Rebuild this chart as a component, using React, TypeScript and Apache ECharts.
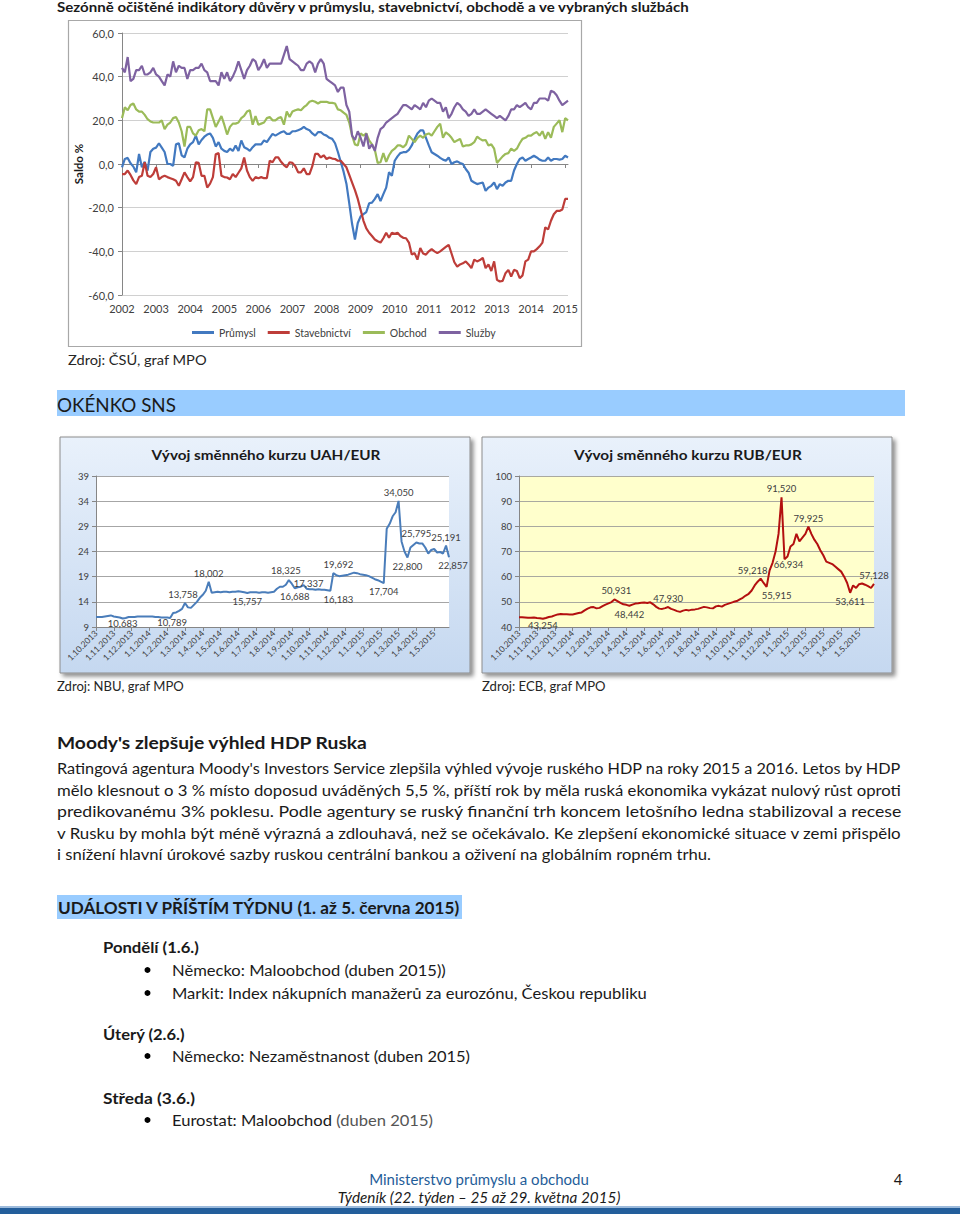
import React, { useEffect, useRef } from "react";
import * as echarts from "echarts";

const FONT = "Lato, 'Liberation Sans', sans-serif";

// ---------- Top chart: monthly confidence indicators 2002-01 .. 2015-02 ----------
const YEARS = [2002, 2003, 2004, 2005, 2006, 2007, 2008, 2009, 2010, 2011, 2012, 2013, 2014, 2015];
const SERIES_NAMES = ["Průmysl", "Stavebnictví", "Obchod", "Služby"];

const PRUMYSL = [
  -1.5, 2.3, 2.8, 0.3, -1.2, -3.8, 4.6, -1.5, 1.0, -3.0, 5.5, 7.0,
  7.5, 9.5, 7.5, 5.5, 0, 0, -0.8, 9, 9.5, 4, 3, 7,
  9, 10, 13, 9, 11, 12.5, 13.5, 14, 12, 8, 10, 7,
  6, 5.5, 7, 6, 8.5, 6, 10.8, 7.7, 7, 6, 7.7, 9,
  9, 9, 10.8, 10, 12, 13.8, 13, 13.8, 14.5, 15, 13.8, 13.8,
  15, 15, 15.5, 16, 17, 16, 15.5, 14, 13, 14.6, 14.6, 13.5,
  13, 12, 11.5, 9.5, 5.5, 1, -3.5, -9, -18, -27.5, -34.6, -27,
  -24, -23, -22, -18, -17.7, -16, -13.8, -17, -13.8, -10.8, -3.8, -5.4,
  1.5, 3.5, 5, 5.4, 5.4, 6.5, 8.5, 11.5, 14, 15.4, 15.4, 12,
  8.5, 5.4, 4.6, 3.8, 2.8, 2, 1.5, 3, 0, 0.8, 1.2, 0.5,
  0, -2.3, -4, -7.7, -8.5, -9.2, -8.8, -8.5, -12.3, -10.8, -10, -8.5,
  -11.5, -9.2, -10, -8.5, -7.7, -7.7, -3, 0, 2.3, 3, 1.5, 2.3,
  3, 3.8, 3, 2, 1.5, 1.5, 3, 1.5, 2.3, 2.3, 2, 2.3,
  3.8, 3,
];

const STAVEBNICTVI = [
  -4.6, -4.6, -3, -5, -7.5, -9.2, -6, -5.4, 0.8, -5.4, -6, -4.6,
  -1.5, -7, -6, -5.4, -6, -6.5, -7, -7.7, -10, -7, -3.8, -6,
  -8, -6, 0.8, 0.5, -5.4, -5.4, -10.8, -9, -6, 4.5, 5, -5.4,
  -6, -6.2, -7, -4.6, -6, -4, -2, 3, -3, -6, -7.7, -6,
  -6.5, -6, -6.5, -6.5, 1.5, 0.8, 3, 3, 1, -0.5, -1.5, 0.8,
  0.5, -1, -3.8, -3.8, -2, -4.6, -4.6, -1, 4.6, 4.6, 3, 4,
  2.3, 3, 2.5, 2.3, 1.5, 1.5, 0, -1.5, -5, -8.5, -12, -16,
  -21, -26, -29.5, -31.5, -33, -34.6, -35.4, -36, -34, -31.5, -33.8, -31.5,
  -32, -31.5, -33, -33.8, -34, -36, -41.5, -40.8, -43.8, -38.5, -41, -41.5,
  -40, -39, -40, -40.8, -40, -39, -38, -37, -41, -45, -47, -46,
  -45.5, -44.6, -46, -47.7, -43.8, -44.6, -44, -43, -47.7, -46, -49, -44.6,
  -53, -53.8, -53.5, -50, -48.5, -51.5, -48.5, -49, -52.3, -51, -44.6, -43.8,
  -40, -40, -39, -37.7, -36, -29, -30, -26, -23, -21.5, -21.5, -20.8,
  -16, -16,
];

const OBCHOD = [
  21, 26, 24.6, 27, 27.7, 25, 24, 24, 22.5, 20.5, 19.5, 19,
  19, 19, 20, 16, 18, 19, 21, 21.5, 19, 15, 8, 17,
  17, 14, 13, 15.5, 16, 15, 25, 25, 21, 17, 19.5, 22,
  18, 13.5, 17, 18.5, 18.5, 19, 21, 22, 24, 24.6, 18, 22,
  18, 18.5, 19, 21, 21.5, 20, 20, 21, 21.5, 18, 24, 21.5,
  24, 24.6, 25, 24.6, 26, 27, 28.5, 29, 28.5, 27.7, 28.5, 28.5,
  28.5, 28, 28, 27.7, 25, 24.6, 23.5, 22.5, 19, 13, 9, 8.5,
  14, 13, 14, 10.8, 9, 6.5, 0.5, 0.8, 5, 1, 4, 6,
  7, 8.5, 8.5, 7.7, 9, 13, 11.5, 10, 12, 13, 12, 13.5,
  14, 13, 15, 17, 18.5, 12, 14.5, 13.5, 12, 10, 10.8, 11.5,
  8, 8.5, 8.5, 9, 10, 12.5, 11.5, 10.8, 11, 8.5, 9, 7,
  0.5, 2, 3.5, 4.6, 5, 7, 6, 7, 9.5, 11.5, 12, 13,
  13, 14, 14.6, 13, 15, 11.5, 14.6, 12, 17, 18.5, 20, 14.6,
  21, 20,
];

const SLUZBY = [
  44, 42, 49, 38, 39, 43, 43, 45, 41, 41, 42, 44,
  41, 40, 38, 36, 41, 40, 47, 42, 45, 44, 44, 39,
  43, 43, 44, 44, 46, 43, 42, 38, 38, 38, 36, 42,
  39, 42, 38, 40, 43, 47, 43, 39, 43, 45, 48, 47,
  43, 45, 48, 44, 46, 46, 46, 46, 46, 50, 54, 48,
  47, 46, 45, 43, 43, 46, 47, 46, 42, 46, 48, 46,
  39, 38, 37, 36, 33, 35, 35, 27, 24, 13, 11, 15,
  12, 8, 14, 7, 9, 6, 12, 16, 17, 19, 20, 21,
  22, 23, 25, 27, 27, 26, 25, 27, 26, 25, 28, 26,
  29, 30, 29, 28, 28, 24, 26, 21, 23, 26, 28, 27,
  25, 24, 22, 23, 25, 23, 23, 24, 25, 24, 23, 22,
  21, 22, 21, 20, 22, 25, 25, 27, 26, 27, 28, 26,
  25, 28, 28, 30, 30, 30, 29, 33.5, 33, 31.5, 29, 27,
  28, 29,
];

const TOP_COLORS = ["#4279c0", "#be3d39", "#9bbb59", "#7e62a1"];

// ---------- Exchange-rate charts (5-day steps, 1.10.2013 .. 26.5.2015) ----------
const FX_MONTHS = [
  "10.2013", "11.2013", "12.2013", "1.2014", "2.2014", "3.2014", "4.2014", "5.2014",
  "6.2014", "7.2014", "8.2014", "9.2014", "10.2014", "11.2014", "12.2014",
  "1.2015", "2.2015", "3.2015", "4.2015", "5.2015",
];
const FX_DAYS = [1, 6, 11, 16, 21, 26];

const UAH = [
  11.0, 11.0, 11.0, 11.1, 11.2, 11.3,
  11.1, 11.0, 10.9, 10.683, 10.8, 11.0,
  11.0, 11.0, 11.1, 11.1, 11.1, 11.1,
  11.1, 11.1, 11.0, 11.0, 10.9, 10.9,
  10.9, 10.789, 11.8, 11.9, 12.2, 12.6,
  13.758, 12.9, 12.8, 13.4, 14.0, 14.8,
  15.4, 16.2, 18.002, 15.8, 15.9, 16.0,
  15.9, 16.0, 16.0, 15.9, 16.0, 16.0,
  16.1, 16.0, 15.9, 15.757, 15.9, 15.9,
  15.9, 15.8, 15.9, 15.9, 15.8, 15.9,
  16.0, 16.6, 17.0, 17.0, 17.4, 18.325,
  17.6, 16.688, 16.9, 17.0, 17.337, 16.6,
  16.5, 16.5, 16.4, 16.5, 16.4, 16.4,
  16.3, 16.183, 19.692, 19.3, 19.1, 19.2,
  19.3, 19.4, 19.6, 19.8, 19.7, 19.5,
  19.4, 19.3, 19.1, 18.8, 18.5, 18.3,
  18.0, 17.704, 28.5, 29.5, 31.0, 31.8,
  34.05, 26.0, 24.0, 22.8, 24.8, 25.3,
  25.795, 25.6, 25.6, 24.8, 23.6, 24.3,
  24.5, 23.8, 23.9, 23.6, 25.191, 22.857,
];

const RUB = [
  43.9, 43.9, 43.8, 43.7, 43.7, 43.8,
  43.6, 43.5, 43.254, 43.6, 44.0, 44.2,
  44.6, 45.0, 45.2, 45.1, 45.1, 45.0,
  45.0, 45.3, 45.6, 45.8, 46.6, 47.3,
  47.8, 47.9, 47.4, 47.6, 48.3, 48.9,
  49.4, 49.9, 50.931, 50.3, 49.6, 49.0,
  48.8, 48.442, 48.9, 49.3, 49.4, 49.6,
  49.7, 49.5, 49.8, 49.0, 48.0, 47.3,
  47.2, 47.5, 47.93, 47.2, 46.8, 46.3,
  46.0, 46.5, 46.8, 46.6, 46.9, 47.0,
  47.2, 47.6, 48.0, 47.8, 47.5, 47.4,
  48.2, 48.4, 48.1, 48.8, 49.2, 49.6,
  50.0, 50.3, 51.0, 51.6, 52.5, 53.2,
  54.5, 56.5, 58.0, 59.218, 57.5, 55.915,
  62.5, 65.5, 70.0, 77.0, 91.52, 66.934,
  68.0, 72.0, 73.0, 77.0, 74.0, 75.5,
  77.0, 79.925, 77.0, 74.7, 73.0, 70.5,
  68.5, 66.0, 65.5, 65.0, 64.0, 63.0,
  62.0, 60.0, 57.5, 53.611, 56.5, 55.5,
  57.0, 57.3, 56.8, 56.2, 55.5, 57.128,
];

// indices of points carrying a value label, where the label sits, and a small nudge
const UAH_LABELS: [number, string, number[]][] = [
  [9, "bottom", [0, -4]], [25, "bottom", [2, -4]], [30, "top", [-2, 0]], [38, "top", [0, 0]],
  [51, "bottom", [0, 0]], [65, "top", [-3, -1]], [67, "bottom", [0, 0]], [70, "top", [5, 7]],
  [79, "bottom", [8, 0]], [80, "top", [5, 0]], [97, "bottom", [0, 0]], [102, "top", [0, 0]],
  [105, "bottom", [0, 0]], [108, "top", [0, 0]], [118, "top", [0, 0]], [119, "bottom", [4, 0]],
];
const RUB_LABELS: [number, string, number[]][] = [
  [8, "bottom", [0, -2]], [32, "top", [2, 0]], [37, "bottom", [0, 0]], [50, "top", [0, 0]],
  [81, "top", [-8, 0]], [83, "bottom", [10, 0]], [88, "top", [0, 0]], [89, "bottom", [4, -3]],
  [97, "top", [0, 0]], [111, "bottom", [0, 0]], [119, "top", [0, 0]],
];

// ---------- Document text ----------
const PARAGRAPH = [
  "Ratingová agentura Moody's Investors Service zlepšila výhled vývoje ruského HDP na roky 2015 a 2016. Letos by HDP",
  "mělo klesnout o 3 % místo doposud uváděných 5,5 %, příští rok by měla ruská ekonomika vykázat nulový růst oproti",
  "predikovanému 3% poklesu. Podle agentury se ruský finanční trh koncem letošního ledna stabilizoval a recese",
  "v Rusku by mohla být méně výrazná a zdlouhavá, než se očekávalo. Ke zlepšení ekonomické situace v zemi přispělo",
  "i snížení hlavní úrokové sazby ruskou centrální bankou a oživení na globálním ropném trhu.",
];

type TextSpec = {
  text: string; x: number; y: number; size: number; w?: number;
  bold?: boolean; italic?: boolean; align?: string; color?: string;
};

function buildOption() {
  const canvas = document.createElement("canvas");
  const ctx = canvas.getContext("2d") as CanvasRenderingContext2D;

  const fontOf = (t: { size: number; bold?: boolean; italic?: boolean }) =>
    `${t.italic ? "italic " : ""}${t.bold ? "bold " : ""}${t.size}px ${FONT}`;
  const measure = (text: string, font: string) => {
    ctx.font = font;
    return ctx.measureText(text).width;
  };

  const makeText = (t: TextSpec, forcedScale?: number) => {
    const font = fontOf(t);
    const mw = measure(t.text, font);
    const sx = forcedScale != null ? forcedScale : t.w ? t.w / mw : 1;
    const align = t.align || "left";
    return {
      type: "text",
      x: t.x,
      y: t.y,
      scaleX: sx,
      z: 10,
      silent: true,
      style: {
        text: t.text,
        font,
        fill: t.color || "#1a1a1a",
        textAlign: align,
        textVerticalAlign: "middle",
        align,
        verticalAlign: "middle",
      },
    };
  };

  const paraY = [768, 790, 811, 833, 854];
  const paraW = [846, 846, 846, 846, 655];
  const BODY = 15;

  const texts: TextSpec[] = [
    { text: "Sezónně očištěné indikátory důvěry v průmyslu, stavebnictví, obchodě a ve vybraných službách", x: 57, y: 7, size: 12.5, bold: true, w: 635 },
    { text: "Zdroj: ČSÚ, graf MPO", x: 68, y: 360, size: 14, w: 139, color: "#262626" },
    { text: "OKÉNKO SNS", x: 57, y: 404, size: 19.5, w: 119 },
    { text: "Vývoj směnného kurzu UAH/EUR", x: 266, y: 455, size: 14, bold: true, w: 229, align: "center" },
    { text: "Vývoj směnného kurzu RUB/EUR", x: 688, y: 455, size: 14, bold: true, w: 228, align: "center" },
    { text: "Zdroj: NBU, graf MPO", x: 57, y: 686, size: 14, w: 127, color: "#262626" },
    { text: "Zdroj: ECB, graf MPO", x: 482, y: 686, size: 14, w: 124, color: "#262626" },
    { text: "Moody's zlepšuje výhled HDP Ruska", x: 57, y: 742, size: 17.5, bold: true, w: 311 },
    ...PARAGRAPH.map((p, i) => ({ text: p, x: 57, y: paraY[i], size: BODY, w: paraW[i] })),
    { text: "UDÁLOSTI V PŘÍŠTÍM TÝDNU (1. až 5. června 2015)", x: 58, y: 907, size: 17.5, bold: true, w: 403 },
    { text: "Pondělí (1.6.)", x: 103, y: 947, size: BODY, bold: true, w: 96 },
    { text: "Německo: Maloobchod (duben 2015))", x: 172, y: 970, size: BODY, w: 274 },
    { text: "Markit: Index nákupních manažerů za eurozónu, Českou republiku", x: 172, y: 993, size: BODY, w: 475 },
    { text: "Úterý (2.6.)", x: 103, y: 1034, size: BODY, bold: true, w: 82 },
    { text: "Německo: Nezaměstnanost (duben 2015)", x: 172, y: 1056, size: BODY, w: 298 },
    { text: "Středa (3.6.)", x: 103, y: 1098, size: BODY, bold: true, w: 92 },
    { text: "Ministerstvo průmyslu a obchodu", x: 479, y: 1179, size: BODY, w: 220, align: "center", color: "#1f5d99" },
    { text: "4", x: 898, y: 1179, size: BODY, align: "center" },
    { text: "Týdeník (22. týden – 25 až 29. května 2015)", x: 479, y: 1197, size: BODY, italic: true, w: 283, align: "center" },
  ];

  // last bullet: two colours on one line, one common horizontal scale
  const lastA = "Eurostat: Maloobchod ";
  const lastB = "(duben 2015)";
  const lastFont = fontOf({ size: BODY });
  const lastScale = 261 / measure(lastA + lastB, lastFont);
  const lastBx = 172 + measure(lastA, lastFont) * lastScale;

  const boxFill = () =>
    new echarts.graphic.LinearGradient(0, 0, 0, 1, [
      { offset: 0, color: "#e9f1fb" },
      { offset: 1, color: "#c5d8f0" },
    ]);

  const graphic: any[] = [
    // top chart frame
    { type: "rect", z: -5, silent: true, shape: { x: 68.5, y: 20.5, width: 513, height: 326 }, style: { fill: "#ffffff", stroke: "#a8a8a8", lineWidth: 1.2 } },
    // banner
    { type: "rect", z: -5, silent: true, shape: { x: 57, y: 390, width: 848, height: 26 }, style: { fill: "#99ccff" } },
    // FX boxes
    { type: "rect", z: -5, silent: true, shape: { x: 60, y: 437, width: 410, height: 236 }, style: { fill: boxFill(), stroke: "#8c8c8c", lineWidth: 1, shadowBlur: 4, shadowOffsetX: 3, shadowOffsetY: 3, shadowColor: "rgba(0,0,0,0.45)" } },
    { type: "rect", z: -5, silent: true, shape: { x: 482, y: 437, width: 410, height: 236 }, style: { fill: boxFill(), stroke: "#8c8c8c", lineWidth: 1, shadowBlur: 4, shadowOffsetX: 3, shadowOffsetY: 3, shadowColor: "rgba(0,0,0,0.45)" } },
    // events banner
    { type: "rect", z: -5, silent: true, shape: { x: 57, y: 895, width: 405, height: 24 }, style: { fill: "#99ccff" } },
    // bullets
    ...[970, 993, 1056, 1120].map((y) => ({ type: "circle", z: 5, silent: true, shape: { cx: 147.5, cy: y, r: 3 }, style: { fill: "#000000" } })),
    // bottom bar
    { type: "rect", z: -5, silent: true, shape: { x: 0, y: 1206, width: 960, height: 2 }, style: { fill: "#9dbbdc" } },
    { type: "rect", z: -5, silent: true, shape: { x: 0, y: 1208, width: 960, height: 6 }, style: { fill: "#235e9b" } },
    ...texts.map((t) => makeText(t)),
    makeText({ text: lastA.trim(), x: 172, y: 1120, size: BODY }, lastScale),
    makeText({ text: lastB, x: lastBx, y: 1120, size: BODY, color: "#555555" }, lastScale),
  ];

  // categories
  const topCats: string[] = [];
  YEARS.forEach((y) => {
    for (let m = 1; m <= 12; m++) topCats.push(`${y}-${m}`);
  });
  const monthCats = topCats.slice(0, PRUMYSL.length);
  const fxCats: string[] = [];
  FX_MONTHS.forEach((m) => FX_DAYS.forEach((d) => fxCats.push(`${d}.${m}`)));

  const fmt3 = (p: any) => Number(p.value).toFixed(3).replace(".", ",");
  const labelled = (vals: number[], spec: [number, string, number[]][]) =>
    vals.map((v, i) => {
      const s = spec.find((q) => q[0] === i);
      if (!s) return v;
      return {
        value: v,
        symbol: "circle",
        symbolSize: 1,
        itemStyle: { color: "rgba(0,0,0,0)", borderWidth: 0 },
        label: { show: true, position: s[1], offset: s[2], distance: 3 },
      };
    });

  const fxLabelStyle = { show: false, formatter: fmt3, fontSize: 9.5, color: "#404040", fontFamily: FONT };

  const isFirst = (_i: number, v: string) => v.startsWith("1.");

  const fxXAxis = (gridIndex: number) => ({
    gridIndex,
    type: "category",
    data: fxCats,
    boundaryGap: false,
    axisLine: { show: true, lineStyle: { color: "#868686" } },
    axisTick: { show: true, interval: isFirst, length: 4, lineStyle: { color: "#868686" } },
    axisLabel: { interval: isFirst, rotate: 45, fontSize: 8.5, color: "#404040", margin: 5, fontFamily: FONT },
    splitLine: { show: false },
  });

  const fxYAxis = (gridIndex: number, min: number, max: number, interval: number, gridColor: string) => ({
    gridIndex,
    type: "value",
    min,
    max,
    interval,
    axisLine: { show: true, lineStyle: { color: "#868686" } },
    axisTick: { show: true, length: 4, lineStyle: { color: "#868686" } },
    axisLabel: { fontSize: 9.5, color: "#404040", margin: 7, fontFamily: FONT },
    splitLine: { show: true, lineStyle: { color: gridColor, width: 1 } },
  });

  const topData = [PRUMYSL, STAVEBNICTVI, OBCHOD, SLUZBY];

  return {
    animation: false,
    backgroundColor: "#ffffff",
    textStyle: { fontFamily: FONT },
    graphic,
    legend: {
      data: SERIES_NAMES,
      left: 192,
      top: 327,
      padding: 0,
      icon: "rect",
      itemWidth: 22,
      itemHeight: 3,
      itemGap: 12,
      textStyle: { fontSize: 10.5, color: "#404040", fontFamily: FONT },
    },
    grid: [
      { left: 122, top: 33, width: 446, height: 262 },
      { left: 96, top: 476, width: 353, height: 151, show: true, backgroundColor: "#ffffff", borderWidth: 0 },
      { left: 519, top: 476, width: 355, height: 151, show: true, backgroundColor: "#ffffcc", borderWidth: 0 },
    ],
    xAxis: [
      {
        gridIndex: 0,
        type: "category",
        position: "bottom",
        data: monthCats,
        boundaryGap: false,
        axisLine: { show: false, onZero: false },
        axisTick: { show: false },
        axisLabel: { interval: (i: number) => i % 12 === 0, formatter: (v: string) => v.slice(0, 4), fontSize: 11, color: "#404040", margin: 8 },
        splitLine: { show: false },
      },
      {
        gridIndex: 0,
        type: "category",
        position: "bottom",
        data: monthCats,
        boundaryGap: false,
        axisLine: { show: true, onZero: true, lineStyle: { color: "#868686" } },
        axisTick: { show: true, interval: (i: number) => i % 12 === 0, length: 4, lineStyle: { color: "#868686" } },
        axisLabel: { show: false },
        splitLine: { show: false },
      },
      fxXAxis(1),
      fxXAxis(2),
    ],
    yAxis: [
      {
        gridIndex: 0,
        type: "value",
        min: -60,
        max: 60,
        interval: 20,
        name: "Saldo %",
        nameLocation: "middle",
        nameGap: 35,
        nameRotate: 90,
        nameTextStyle: { fontWeight: "bold", fontSize: 11.5, color: "#1a1a1a", fontFamily: FONT },
        axisLine: { show: true, lineStyle: { color: "#868686" } },
        axisTick: { show: true, length: 4, lineStyle: { color: "#868686" } },
        axisLabel: { formatter: (v: number) => v.toFixed(1).replace(".", ","), fontSize: 11, color: "#404040", margin: 8 },
        splitLine: { show: true, lineStyle: { color: "#d0d0d0" } },
      },
      fxYAxis(1, 9, 39, 5, "#a6a6a6"),
      fxYAxis(2, 40, 100, 10, "#a9a9a0"),
    ],
    series: [
      ...SERIES_NAMES.map((name, i) => ({
        name,
        type: "line",
        xAxisIndex: 0,
        yAxisIndex: 0,
        data: topData[i],
        showSymbol: false,
        symbol: "none",
        color: TOP_COLORS[i],
        lineStyle: { width: 2.2, color: TOP_COLORS[i] },
      })),
      {
        name: "UAH/EUR",
        type: "line",
        xAxisIndex: 2,
        yAxisIndex: 1,
        data: labelled(UAH, UAH_LABELS),
        showSymbol: true,
        showAllSymbol: true,
        symbol: "none",
        color: "#4a7dba",
        lineStyle: { width: 2, color: "#4a7dba" },
        label: fxLabelStyle,
      },
      {
        name: "RUB/EUR",
        type: "line",
        xAxisIndex: 3,
        yAxisIndex: 2,
        data: labelled(RUB, RUB_LABELS),
        showSymbol: true,
        showAllSymbol: true,
        symbol: "none",
        color: "#b30f0f",
        lineStyle: { width: 2, color: "#b30f0f" },
        label: fxLabelStyle,
      },
    ],
  };
}

export default function App() {
  const ref = useRef<HTMLDivElement>(null);
  useEffect(() => {
    if (!ref.current) return;
    const chart = echarts.init(ref.current, null, { renderer: "svg" });
    chart.setOption(buildOption() as any);
    return () => chart.dispose();
  }, []);
  return (
    <div
      ref={ref}
      style={{ position: "absolute", left: 0, top: 0, width: 960, height: 1214, background: "#ffffff" }}
    />
  );
}
